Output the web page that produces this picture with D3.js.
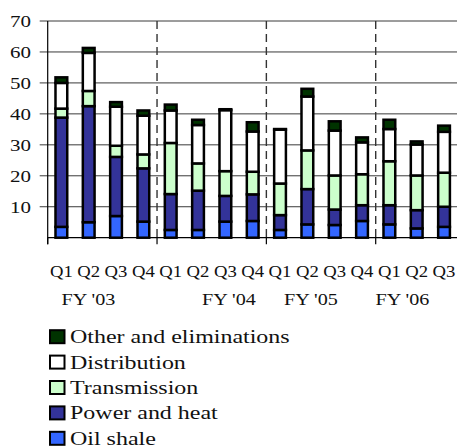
<!DOCTYPE html>
<html>
<head>
<meta charset="utf-8">
<script src="https://cdn.jsdelivr.net/npm/d3@7"></script>
<style>
  html, body { margin: 0; padding: 0; background: #fff; }
  svg { display: block; }
  text { font-family: "Liberation Serif", "Times New Roman", serif; fill: #111; }
</style>
</head>
<body>
<svg id="chart" width="457" height="448"></svg>
<script>
// Quarterly quarters and fiscal-year groups
const quarters = ["Q1","Q2","Q3","Q4","Q1","Q2","Q3","Q4","Q1","Q2","Q3","Q4","Q1","Q2","Q3"];
const fiscalYears = ["FY '03","FY '04","FY '05","FY '06"];
// position of each fiscal-year caption, in quarter units along the axis
const fiscalYearAt = [0.99, 6.13, 9.13, 12.48];
const yearStarts = [0, 4, 8, 12];

// Segment values per quarter
const oilShale     = [3.5, 5.0, 7.0, 5.2, 2.5, 2.5, 5.2, 5.4, 2.5, 4.3, 4.1, 5.4, 4.3, 3.0, 3.5];
const powerHeat    = [35.3, 37.5, 19.1, 17.2, 11.6, 12.7, 8.3, 8.6, 4.8, 11.4, 5.0, 5.1, 6.2, 5.9, 6.5];
const transmission = [2.9, 4.9, 3.6, 4.5, 16.5, 8.8, 8.0, 7.3, 10.2, 12.5, 11.0, 10.0, 14.2, 11.2, 11.0];
const distribution = [8.3, 12.3, 12.6, 12.5, 10.5, 12.4, 19.7, 13.0, 17.4, 17.4, 14.5, 10.3, 10.4, 10.0, 13.2];
const otherElim    = [1.8, 1.6, 1.5, 1.7, 1.9, 1.7, 0.3, 3.0, 0.2, 2.5, 3.0, 1.6, 3.0, 1.0, 2.0];

const yTicks = [10, 20, 30, 40, 50, 60, 70];

const seriesNames = ["Oil shale", "Power and heat", "Transmission", "Distribution", "Other and eliminations"];
const seriesColors = ["#3366ff", "#333399", "#ccffcc", "#ffffff", "#003300"];
const seriesValues = [oilShale, powerHeat, transmission, distribution, otherElim];

const svg = d3.select("#chart");
const plot = { left: 47.7, right: 457.7, top: 21, bottom: 237.7 };
const sx = 1.2; // horizontal widening of the serif lettering

const x = d3.scaleBand().domain(d3.range(quarters.length)).range([plot.left, plot.right]).padding(0);
const y = d3.scaleLinear().domain([0, 70]).range([plot.bottom, plot.top]);
const barW = x.bandwidth() * 0.43;
const step = x.step();

// gridlines
svg.append("g").selectAll("line").data(yTicks).join("line")
  .attr("x1", plot.left - 8).attr("x2", 457)
  .attr("y1", d => y(d)).attr("y2", d => y(d))
  .attr("stroke", "#3a3a3a").attr("stroke-width", 1);

// y tick labels
svg.append("g").selectAll("text").data(yTicks).join("text")
  .attr("transform", d => `translate(31,${y(d) + 6}) scale(${sx},1)`)
  .attr("text-anchor", "end")
  .style("font-size", "17.5px")
  .text(d => d);

// fiscal-year separators
svg.append("g").selectAll("line").data(yearStarts.slice(1)).join("line")
  .attr("x1", d => x(d)).attr("x2", d => x(d))
  .attr("y1", plot.top).attr("y2", plot.bottom)
  .attr("stroke", "#333").attr("stroke-width", 1.4)
  .attr("stroke-dasharray", "8,5");

// stacked bars
const rows = quarters.map((q, i) => {
  const r = { i };
  seriesNames.forEach((n, k) => r[n] = seriesValues[k][i]);
  return r;
});
const stacked = d3.stack().keys(seriesNames)(rows);

svg.append("g").selectAll("g").data(stacked).join("g")
  .attr("fill", (d, k) => seriesColors[k])
  .selectAll("rect").data(d => d).join("rect")
  .attr("x", d => x(d.data.i) + (x.bandwidth() - barW) / 2)
  .attr("width", barW)
  .attr("y", d => y(d[1]))
  .attr("height", d => y(d[0]) - y(d[1]))
  .attr("stroke", "#000").attr("stroke-width", 2.5);

// axes lines
svg.append("line")
  .attr("x1", plot.left).attr("x2", plot.left)
  .attr("y1", plot.top).attr("y2", plot.bottom + 6.5)
  .attr("stroke", "#000").attr("stroke-width", 1.2);
svg.append("line")
  .attr("x1", plot.left).attr("x2", 457)
  .attr("y1", plot.bottom).attr("y2", plot.bottom)
  .attr("stroke", "#000").attr("stroke-width", 1.2);
svg.append("g").selectAll("line").data(yearStarts).join("line")
  .attr("x1", d => x(d)).attr("x2", d => x(d))
  .attr("y1", plot.bottom).attr("y2", plot.bottom + 6.5)
  .attr("stroke", "#000").attr("stroke-width", 1.2);

// quarter labels
svg.append("g").selectAll("text").data(quarters).join("text")
  .attr("transform", (d, i) => `translate(${x(i) + x.bandwidth() / 2},277) scale(1.1,1)`)
  .attr("text-anchor", "middle")
  .style("font-size", "17px")
  .text(d => d);

// fiscal-year labels
svg.append("g").selectAll("text").data(fiscalYears).join("text")
  .attr("transform", (d, k) => `translate(${plot.left + (fiscalYearAt[k] + 0.5) * step},305) scale(1.15,1)`)
  .attr("text-anchor", "middle")
  .style("font-size", "17.5px")
  .text(d => d);

// legend, top series first
const legendOrder = d3.range(seriesNames.length).reverse();
const lg = svg.append("g").selectAll("g").data(legendOrder).join("g")
  .attr("transform", (k, j) => `translate(0,${336.7 + j * 25.4})`);
lg.append("rect")
  .attr("x", 50).attr("y", -6.5).attr("width", 14.5).attr("height", 13)
  .attr("fill", k => seriesColors[k])
  .attr("stroke", "#000").attr("stroke-width", 2);
lg.append("text")
  .attr("transform", `translate(70,6.5) scale(1.23,1)`)
  .style("font-size", "19.5px")
  .text(k => seriesNames[k]);
</script>
</body>
</html>
